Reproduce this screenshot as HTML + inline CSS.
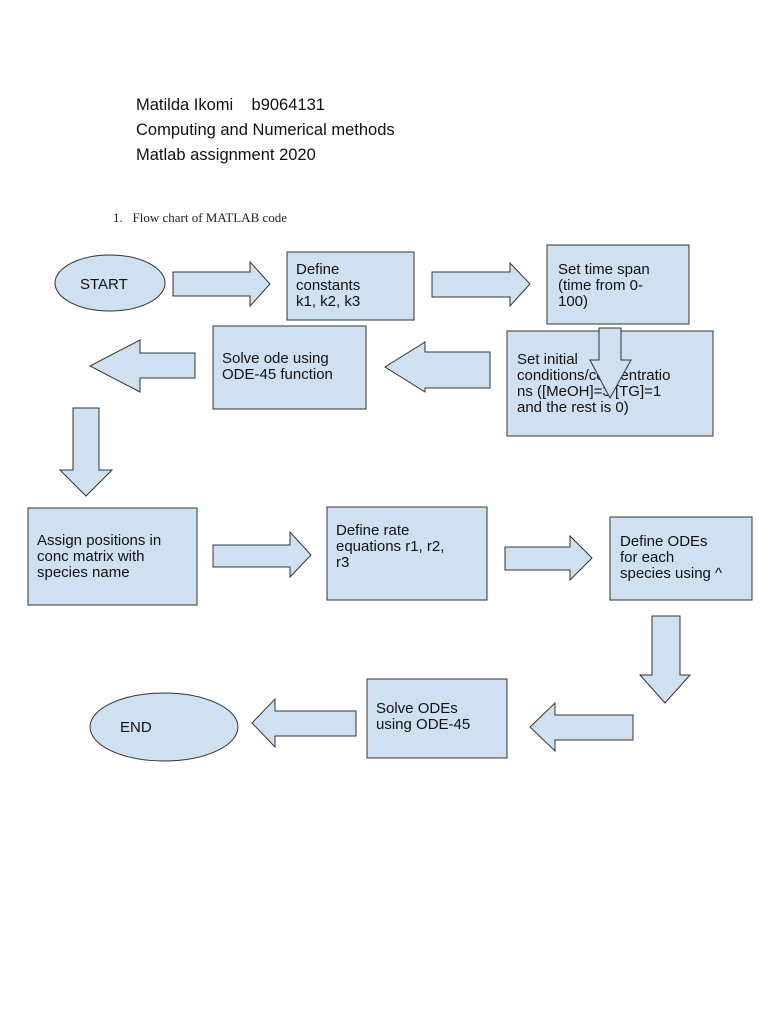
<!DOCTYPE html>
<html><head><meta charset="utf-8"><style>
html,body{margin:0;padding:0;background:#fff;}
svg{display:block;}
.h{font-family:"Liberation Sans",sans-serif;font-size:16.5px;fill:#111;}
.t{font-family:"Liberation Sans",sans-serif;font-size:15px;fill:#111;}
.s{font-family:"Liberation Serif",serif;font-size:13px;fill:#222;}
.f{fill:#cfe0f1;stroke:#333;stroke-width:1;}
</style></head><body>
<svg width="768" height="1024" viewBox="0 0 768 1024" xmlns="http://www.w3.org/2000/svg">
<text class="h" x="136" y="110">Matilda Ikomi&#160;&#160;&#160;&#160;b9064131</text>
<text class="h" x="136" y="135">Computing and Numerical methods</text>
<text class="h" x="136" y="160">Matlab assignment 2020</text>
<text class="s" x="113" y="222">1.&#160;&#160;&#160;Flow chart of MATLAB code</text>

<ellipse class="f" cx="110" cy="283" rx="55" ry="28"/>
<text class="t" x="80" y="289">START</text>
<polygon class="f" points="173,272 250,272 250,262 270,284 250,306 250,296 173,296"/>
<rect class="f" x="287" y="252" width="127" height="68"/>
<text class="t" x="296" y="274">Define</text><text class="t" x="296" y="290">constants</text><text class="t" x="296" y="306">k1, k2, k3</text>
<polygon class="f" points="432,272 510,272 510,263 530,284 510,306 510,297 432,297"/>
<rect class="f" x="547" y="245" width="142" height="79"/>
<text class="t" x="558" y="274">Set time span</text><text class="t" x="558" y="290">(time from 0-</text><text class="t" x="558" y="306">100)</text>

<rect class="f" x="507" y="331" width="206" height="105"/>
<text class="t" x="517" y="364">Set initial</text><text class="t" x="517" y="380">conditions/concentratio</text><text class="t" x="517" y="396">ns ([MeOH]=3 [TG]=1</text><text class="t" x="517" y="412">and the rest is 0)</text>
<polygon class="f" points="599,328 621,328 621,360 631,360 610,398 590,360 599,360"/>

<polygon class="f" points="490,352 425,352 425,342 385,367 425,392 425,388 490,388" />
<rect class="f" x="213" y="326" width="153" height="83"/>
<text class="t" x="222" y="363">Solve ode using</text><text class="t" x="222" y="379">ODE-45 function</text>
<polygon class="f" points="195,353 140,353 140,340 90,366 140,392 140,378 195,378"/>

<polygon class="f" points="73,408 99,408 99,470 112,470 86,496 60,470 73,470"/>
<rect class="f" x="28" y="508" width="169" height="97"/>
<text class="t" x="37" y="545">Assign positions in</text><text class="t" x="37" y="561">conc matrix with</text><text class="t" x="37" y="577">species name</text>
<polygon class="f" points="213,545 290,545 290,532 311,555 290,577 290,567 213,567"/>
<rect class="f" x="327" y="507" width="160" height="93"/>
<text class="t" x="336" y="535">Define rate</text><text class="t" x="336" y="551">equations r1, r2,</text><text class="t" x="336" y="567">r3</text>
<polygon class="f" points="505,547 570,547 570,536 592,558 570,580 570,570 505,570"/>
<rect class="f" x="610" y="517" width="142" height="83"/>
<text class="t" x="620" y="546">Define ODEs</text><text class="t" x="620" y="562">for each</text><text class="t" x="620" y="578">species using ^</text>

<polygon class="f" points="652,616 680,616 680,675 690,675 665,703 640,675 652,675"/>
<polygon class="f" points="633,715 555,715 555,703 530,727 555,751 555,740 633,740"/>
<rect class="f" x="367" y="679" width="140" height="79"/>
<text class="t" x="376" y="713">Solve ODEs</text><text class="t" x="376" y="729">using ODE-45</text>
<polygon class="f" points="356,711 275,711 275,699 252,723 275,747 275,736 356,736"/>
<ellipse class="f" cx="164" cy="727" rx="74" ry="34"/>
<text class="t" x="120" y="732">END</text>
</svg>
</body></html>
